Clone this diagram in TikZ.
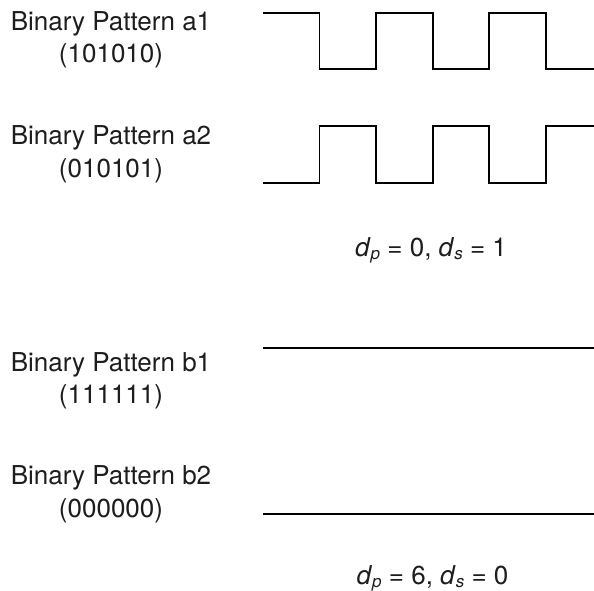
\documentclass[tikz,border=0pt]{standalone}
\usepackage{fontspec}
\setmainfont{TeX Gyre Heros}
\definecolor{txt}{HTML}{1E1C1D}
\newcommand{\mysub}[2]{\textit{#1}\raisebox{-0.12em}{\fontsize{17}{17}\selectfont\textit{#2}}}
\begin{document}
\begin{tikzpicture}[x=1pt,y=-1pt,
  lbl/.style={anchor=base,inner sep=0pt,text=txt,font=\fontsize{26}{30}\selectfont},
  wave/.style={draw=black,line width=1.8pt,line join=miter}]
\useasboundingbox (0,0) rectangle (594,591);
% labels
\node[lbl] (a1t) at (111,31) {Binary Pattern a1};
\node[lbl] (a1c) at (111,63) {(101010)};
\node[lbl] (a2t) at (111,144.5) {Binary Pattern a2};
\node[lbl] (a2c) at (111,177) {(010101)};
\node[lbl] (b1t) at (111,371) {Binary Pattern b1};
\node[lbl] (b1c) at (111,403.5) {(111111)};
\node[lbl] (b2t) at (111,484.5) {Binary Pattern b2};
\node[lbl] (b2c) at (111,517) {(000000)};
\node[lbl] (eqa) at (431,256) {\mysub{d}{p} = 0, \mysub{d}{s} = 1};
\node[lbl] (eqb) at (432.5,584) {\mysub{d}{p} = 6, \mysub{d}{s} = 0};
% waveforms
\draw[wave] (263,12.7) -- (319.5,12.7) -- (319.5,69.3) -- (376,69.3) -- (376,12.7)
  -- (432.7,12.7) -- (432.7,69.3) -- (489.3,69.3) -- (489.3,12.7) -- (546,12.7)
  -- (546,69.3) -- (594,69.3);
\draw[wave] (263,182.7) -- (319.5,182.7) -- (319.5,126) -- (376,126) -- (376,182.7)
  -- (432.7,182.7) -- (432.7,126) -- (489.3,126) -- (489.3,182.7) -- (546,182.7)
  -- (546,126) -- (594,126);
\draw[wave] (263,348.3) -- (594,348.3);
\draw[wave] (263,514.3) -- (594,514.3);
\end{tikzpicture}
\end{document}
